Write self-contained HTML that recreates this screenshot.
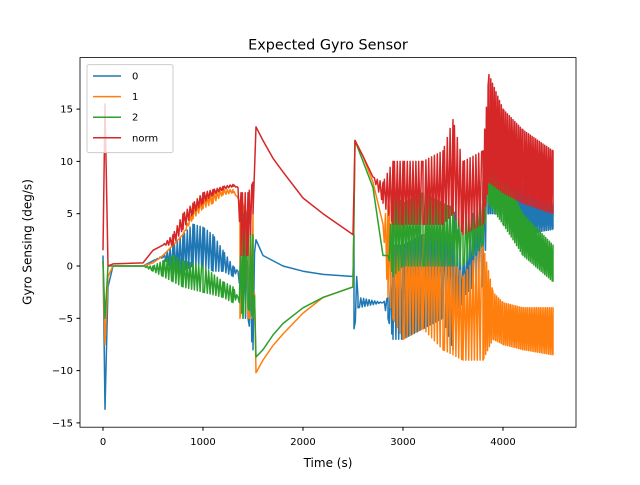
<!DOCTYPE html>
<html><head><meta charset="utf-8"><style>
body{margin:0;background:#fff;}
svg text{font-family:"DejaVu Sans","Liberation Sans",sans-serif;}
</style></head><body>
<svg id="chart" width="640" height="480" viewBox="0 0 640 480">
<rect width="640" height="480" fill="#fff"/>
<text x="328" y="49.5" font-size="14.4" text-anchor="middle">Expected Gyro Sensor</text>
<g id="plot"></g>
<rect x="80" y="57.6" width="496" height="369.6" fill="none" stroke="#000" stroke-width="0.8"/>
<g id="xt"></g>
<g id="yt"></g>
<text x="328" y="467" font-size="12" text-anchor="middle">Time (s)</text>
<text transform="translate(31.5,242) rotate(-90)" font-size="12" text-anchor="middle">Gyro Sensing (deg/s)</text>
<g id="legend"></g>
</svg>
<script>
const xTicks=[0,1000,2000,3000,4000];
const yTicks=[-15,-10,-5,0,5,10,15];
const seriesNames=["0","1","2","norm"];
const colors=["#1f77b4","#ff7f0e","#2ca02c","#d62728"];
// time points, lower envelope, upper envelope
const t0=[0,20,50,100,400,500,600,700,800,900,1000,1100,1200,1300,1350,1400,1450,1500,1530,1600,1800,2000,2200,2500,2510,2550,2800,2850,2900,3000,3200,3400,3500,3600,3700,3800,3850,4000,4200,4500];
const lo0=[1,-13.7,-2,0,0,0.5,0.8,-0.5,-0.5,0,0,-0.5,-0.5,-1,-0.5,-5,-5,-8,2.5,1,0,-0.5,-0.8,-1,-6,-4,-3.5,-5,-7,-7,-6,-5,-8,-3,-2,-2,5,5,3,3.5];
const hi0=[1,-13.7,-2,0,0,0.5,1,2,3,4,3.7,3,1.5,0,-0.5,2,0,0,2.5,1,0,-0.5,-0.8,-1,3,-3,-3.5,-3,2,2,3,5,6,0,5,8,12.5,10.5,8,6];
const t1=[0,20,50,100,400,500,600,700,800,900,1000,1100,1200,1300,1350,1370,1400,1450,1500,1530,1600,1700,1800,2000,2200,2500,2520,2600,2700,2800,2850,2900,3000,3200,3400,3600,3800,3900,4000,4200,4500];
const lo1=[0.5,-7.5,-1,0,0,0.3,1,2,3,4.5,5.5,6,6.8,7,6.5,-5,-3,-5,-5,-10.2,-9,-7.6,-6.5,-4.5,-3,-2,12,10.5,8,4,-3,-5,-7,-6,-8,-9,-9,-7,-7.5,-8,-8.5];
const hi1=[0.5,-7.5,-1,0,0,0.3,1,2,3,5.5,6.5,7,7.3,7.3,6.5,6,6,5,5,-10.2,-9,-7.6,-6.5,-4.5,-3,-2,12,10.5,8,4,6,5,4,3,3,-1,2,-2.5,-3.5,-4,-4];
const t2=[0,20,50,100,400,500,600,700,800,1000,1200,1300,1350,1400,1450,1500,1530,1600,1700,1800,2000,2200,2500,2520,2600,2700,2800,2850,2900,3000,3200,3400,3600,3800,3850,4000,4200,4500];
const lo2=[0.5,-5,0,0,0,-0.5,-1,-1.5,-2,-2.5,-3,-3.5,-3,-5,-4,-5,-8.7,-8,-6.6,-5.5,-4,-3,-2,12,10,7.5,1,1,-1,0,0,0,0,2,6,4,1,-1.5];
const hi2=[0.5,-5,0,0,0,0,0.5,1,0.5,0,-1.5,-2,-3,5,5,3,-8.7,-8,-6.6,-5.5,-4,-3,-2,12,10,7.5,1,1,7,6,7,6,5,7,11,9,5,2];
const t3=[0,20,50,100,400,500,600,700,800,900,1000,1100,1200,1300,1350,1380,1450,1500,1530,1600,1700,1800,2000,2200,2500,2520,2600,2700,2800,2900,3000,3200,3400,3500,3600,3800,3860,4000,4200,4500];
const lo3=[1.5,15.5,0,0.2,0.3,1.5,2,2,3.5,5,6,6.8,7.3,7.6,7.5,1,1,5,13.3,12,10.3,9,6.5,5,3,12,10.5,8.5,6,4,4,4,4,5,3,4,8,7,6,5];
const hi3=[1.5,15.5,0,0.2,0.3,1.5,2,3,5,6,7,7.3,7.6,7.8,7.5,7,7,8,13.3,12,10.3,9,6.5,5,3,12,10.5,8.5,8,10,10,10,11,14,10,11,18.3,15,13,11];
const T=[t0,t1,t2,t3],LO=[lo0,lo1,lo2,lo3],HI=[hi0,hi1,hi2,hi3];
const NS="http://www.w3.org/2000/svg";
const xs=v=>103+v*0.1;
const ys=v=>266-v*10.46;
const plot=document.getElementById('plot');
for(let s=0;s<4;s++){
  const t=T[s],lo=LO[s],hi=HI[s];
  let pts=[];let flip=0;
  for(let i=0;i<t.length;i++){
    if(i>0 && (hi[i-1]!==lo[i-1]||hi[i]!==lo[i])){
      const span=t[i]-t[i-1];const step=t[i]>3850?9:14;const n=Math.max(1,Math.round(span/step));
      for(let k=1;k<n;k++){
        const f=k/n;const a=lo[i-1]+(lo[i]-lo[i-1])*f,b=hi[i-1]+(hi[i]-hi[i-1])*f;
        flip^=1;pts.push([t[i-1]+span*f,flip?b:a]);
      }
    }
    if(hi[i]===lo[i]) pts.push([t[i],hi[i]]);
    else {pts.push([t[i],hi[i]]);pts.push([t[i],lo[i]]);}
  }
  const d="M"+pts.map(p=>xs(p[0]).toFixed(1)+","+ys(p[1]).toFixed(1)).join("L");
  const p=document.createElementNS(NS,'path');
  p.setAttribute('d',d);p.setAttribute('fill','none');p.setAttribute('stroke',colors[s]);
  p.setAttribute('stroke-width','1.5');p.setAttribute('stroke-linejoin','round');
  
  
  plot.appendChild(p);
}
const xt=document.getElementById('xt');
xTicks.forEach(v=>{
  const x=xs(v);
  const l=document.createElementNS(NS,'line');
  l.setAttribute('x1',x);l.setAttribute('x2',x);l.setAttribute('y1',427.2);l.setAttribute('y2',430.7);l.setAttribute('stroke','#000');
  
  
  xt.appendChild(l);
  const tx=document.createElementNS(NS,'text');
  tx.setAttribute('x',x);tx.setAttribute('y',445);tx.setAttribute('font-size','10');tx.setAttribute('text-anchor','middle');
  tx.textContent=v;
  
  
  xt.appendChild(tx);
});
const yt=document.getElementById('yt');
yTicks.forEach(v=>{
  const y=ys(v);
  const l=document.createElementNS(NS,'line');
  l.setAttribute('x1',76.5);l.setAttribute('x2',80);l.setAttribute('y1',y);l.setAttribute('y2',y);l.setAttribute('stroke','#000');
  
  
  yt.appendChild(l);
  const tx=document.createElementNS(NS,'text');
  tx.setAttribute('x',73);tx.setAttribute('y',y+3.5);tx.setAttribute('font-size','10');tx.setAttribute('text-anchor','end');
  tx.textContent=(v<0?"\u2212"+(-v):v);
  
  
  yt.appendChild(tx);
});
const lg=document.getElementById('legend');
const box=document.createElementNS(NS,'rect');
box.setAttribute('x',87);box.setAttribute('y',64.6);box.setAttribute('width',86);box.setAttribute('height',88);
box.setAttribute('rx',2);box.setAttribute('fill','#fff');box.setAttribute('fill-opacity','0.8');box.setAttribute('stroke','#ccc');


lg.appendChild(box);
seriesNames.forEach((n,i)=>{
  const y=76+i*20.6;
  const l=document.createElementNS(NS,'line');
  l.setAttribute('x1',93);l.setAttribute('x2',121);l.setAttribute('y1',y);l.setAttribute('y2',y);
  l.setAttribute('stroke',colors[i]);l.setAttribute('stroke-width','1.5');
  
  
  lg.appendChild(l);
  const tx=document.createElementNS(NS,'text');
  tx.setAttribute('x',132);tx.setAttribute('y',y+3.5);tx.setAttribute('font-size','10');
  tx.textContent=n;
  
  
  lg.appendChild(tx);
});
</script>
</body></html>
